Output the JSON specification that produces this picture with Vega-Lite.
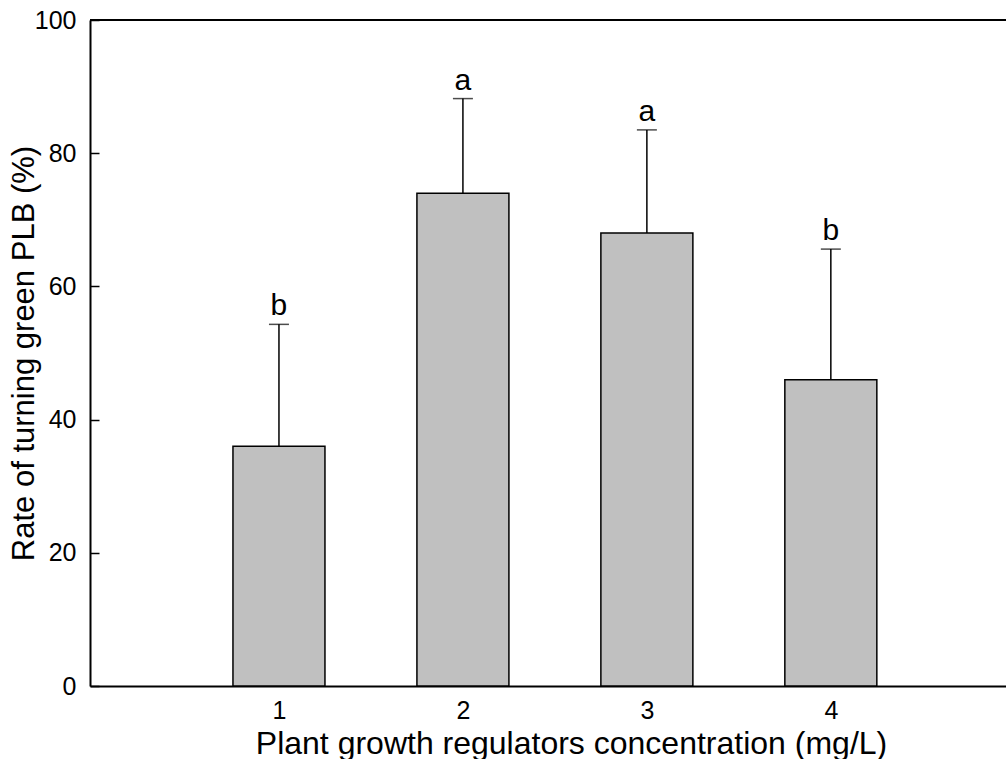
{
  "$schema": "https://vega.github.io/schema/vega-lite/v6.json",
  "autosize": "none",
  "width": 916,
  "height": 666,
  "padding": {"left": 90, "top": 20, "right": 0, "bottom": 73},
  "background": "white",
  "config": {
    "view": {"stroke": null},
    "font": "Liberation Sans",
    "axis": {"labelFont": "Liberation Sans", "titleFont": "Liberation Sans", "labelColor": "black", "titleColor": "black", "titleFontWeight": "normal", "domainColor": "black", "tickColor": "black", "grid": false}
  },
  "data": {
    "values": [
      {"conc": 1, "mean": 36, "upper": 54.3, "letter": "b"},
      {"conc": 2, "mean": 74, "upper": 88.2, "letter": "a"},
      {"conc": 3, "mean": 68, "upper": 83.5, "letter": "a"},
      {"conc": 4, "mean": 46, "upper": 65.6, "letter": "b"}
    ]
  },
  "layer": [
    {
      "mark": {"type": "rule", "color": "black", "strokeWidth": 1.5},
      "encoding": {
        "x": {"field": "conc", "type": "quantitative"},
        "y": {"field": "mean", "type": "quantitative"},
        "y2": {"field": "upper"}
      }
    },
    {
      "mark": {"type": "bar", "size": 92, "fill": "#c0c0c0", "stroke": "black", "strokeWidth": 1.5},
      "encoding": {
        "x": {
          "field": "conc", "type": "quantitative",
          "scale": {"domain": [0, 4.925], "nice": false, "zero": false},
          "axis": {"values": [1, 2, 3, 4], "format": "d", "ticks": false, "domainWidth": 2, "labelFontSize": 25, "labelPadding": 12, "title": "Plant growth regulators concentration (mg/L)", "titleFontSize": 32, "titleBaseline": "alphabetic", "titleX": 481, "titleY": 67}
        },
        "y": {
          "field": "mean", "type": "quantitative",
          "scale": {"domain": [0, 100], "nice": false},
          "axis": {"values": [0, 20, 40, 60, 80, 100], "format": "d", "tickSize": -9, "tickWidth": 1.5, "domainWidth": 2, "labelFontSize": 25, "labelPadding": 23, "title": "Rate of turning green PLB (%)", "titleFontSize": 31, "titleBaseline": "middle", "titleX": -66, "titleY": 333}
        }
      }
    },
    {
      "mark": {"type": "tick", "orient": "horizontal", "size": 20, "thickness": 1.5, "color": "black"},
      "encoding": {
        "x": {"field": "conc", "type": "quantitative"},
        "y": {"field": "upper", "type": "quantitative"}
      }
    },
    {
      "mark": {"type": "text", "baseline": "alphabetic", "dy": -9, "fontSize": 30, "font": "Liberation Sans", "color": "black"},
      "encoding": {
        "x": {"field": "conc", "type": "quantitative"},
        "y": {"field": "upper", "type": "quantitative"},
        "text": {"field": "letter"}
      }
    },
    {
      "mark": {"type": "rule", "color": "black", "strokeWidth": 2},
      "encoding": {"y": {"datum": 100}}
    }
  ]
}
